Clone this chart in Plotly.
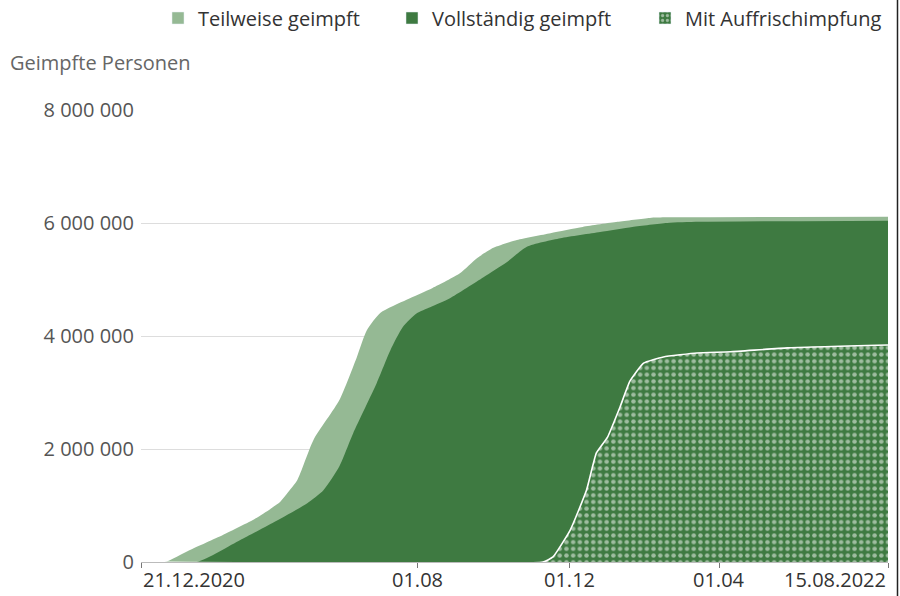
import plotly.graph_objects as go

# ---- data (values in persons) ----
teil_dates = ["2020-12-21", "2021-01-09", "2021-01-29", "2021-02-25", "2021-03-24", "2021-04-12",
              "2021-04-18", "2021-04-26", "2021-05-09", "2021-05-30", "2021-06-13", "2021-06-21",
              "2021-07-02", "2021-07-23", "2021-08-13", "2021-09-04", "2021-09-18", "2021-10-01",
              "2021-10-20", "2021-11-16", "2021-12-12", "2022-01-09", "2022-02-04", "2022-02-18",
              "2022-08-15"]
teil_values = [0, 0, 210000, 480000, 780000, 1060000,
               1220000, 1450000, 2160000, 2870000, 3630000, 4100000,
               4410000, 4640000, 4850000, 5110000, 5380000, 5560000,
               5700000, 5820000, 5930000, 6020000, 6090000, 6100000,
               6110000]

voll_dates = ["2020-12-21", "2021-02-04", "2021-03-11", "2021-04-06", "2021-05-04", "2021-05-17",
              "2021-05-30", "2021-06-10", "2021-06-29", "2021-07-10", "2021-07-20", "2021-07-31",
              "2021-08-11", "2021-08-27", "2021-09-23", "2021-10-12", "2021-10-28", "2021-11-24",
              "2021-12-26", "2022-01-21", "2022-02-18", "2022-03-16", "2022-08-15"]
voll_values = [0, 0, 390000, 690000, 1040000, 1270000,
               1700000, 2280000, 3170000, 3750000, 4160000, 4400000,
               4510000, 4670000, 5040000, 5310000, 5580000, 5730000,
               5840000, 5930000, 6000000, 6020000, 6040000]

boost_dates = ["2020-12-21", "2021-11-10", "2021-11-18", "2021-12-02", "2021-12-15", "2021-12-23",
               "2022-01-01", "2022-01-11", "2022-01-19", "2022-01-30", "2022-02-15", "2022-03-14",
               "2022-04-10", "2022-05-26", "2022-08-15"]
boost_values = [0, 0, 90000, 570000, 1270000, 1930000,
                2210000, 2740000, 3200000, 3520000, 3630000, 3700000,
                3720000, 3790000, 3840000]

series_names = ["Teilweise geimpft", "Vollständig geimpft", "Mit Auffrischimpfung"]
x_tick_vals = ["2020-12-21", "2021-08-01", "2021-12-01", "2022-04-01", "2022-08-15"]
x_tick_text = ["21.12.2020", "01.08", "01.12", "01.04", "15.08.2022"]
y_tick_vals = [0, 2000000, 4000000, 6000000, 8000000]
y_title = "Geimpfte Personen"

LIGHT = "#95b994"
DARK = "#3e7a41"
FONT = "Open Sans, sans-serif"

L, R, T, B = 141, 12, 110, 34
PW, PH = 900 - L - R, 596 - T - B


def px(xpix):
    return (xpix - L) / PW


def py(ypix):
    return (596 - B - ypix) / PH


fig = go.Figure()
fig.add_trace(go.Scatter(x=teil_dates, y=teil_values, mode="lines", fill="tozeroy",
                         line=dict(width=0, color=LIGHT, shape="spline", smoothing=0.6),
                         fillcolor=LIGHT, showlegend=False, hoverinfo="skip"))
fig.add_trace(go.Scatter(x=voll_dates, y=voll_values, mode="lines", fill="tozeroy",
                         line=dict(width=0, color=DARK, shape="spline", smoothing=0.6),
                         fillcolor=DARK, showlegend=False, hoverinfo="skip"))
fig.add_trace(go.Scatter(x=boost_dates, y=boost_values, mode="lines", fill="tozeroy",
                         line=dict(width=1.6, color="white", shape="spline", smoothing=0.4),
                         fillpattern=dict(shape=".", bgcolor=DARK, fgcolor="white",
                                          size=6.7, solidity=0.35),
                         showlegend=False, hoverinfo="skip"))

# legend entries (one legend per entry for exact placement)
legend_x = [158, 392, 645]
legend_markers = [
    dict(color=LIGHT),
    dict(color=DARK),
    dict(color=DARK, pattern=dict(shape=".", bgcolor=DARK, fgcolor="white", size=6, solidity=0.35)),
]
legend_ids = ["legend", "legend2", "legend3"]
for name, mk, lid in zip(series_names, legend_markers, legend_ids):
    fig.add_trace(go.Bar(x=[None], y=[None], name=name, marker=mk, legend=lid))

legend_common = dict(orientation="h", xanchor="left", yanchor="middle", y=py(18),
                     font=dict(family=FONT, size=20, color="#333333"), itemclick=False,
                     bgcolor="rgba(0,0,0,0)", borderwidth=0)

annotations = [
    dict(text=y_title, xref="paper", yref="paper", x=px(8), y=py(62),
         xanchor="left", yanchor="middle", showarrow=False,
         font=dict(family=FONT, size=20, color="#666666")),
]
anchors = ["left"] + ["center"] * (len(x_tick_text) - 2) + ["right"]
for val, txt, anc in zip(x_tick_vals, x_tick_text, anchors):
    annotations.append(dict(text=txt, xref="x", yref="paper", x=val, y=py(579),
                            xanchor=anc, yanchor="middle", showarrow=False,
                            font=dict(family=FONT, size=20, color="#333333")))

fig.update_layout(
    width=900, height=596,
    margin=dict(l=L, r=R, t=T, b=B, autoexpand=False),
    paper_bgcolor="white", plot_bgcolor="white",
    separators=", ",
    font=dict(family=FONT, size=20, color="#555555"),
    legend=dict(x=px(legend_x[0]), **legend_common),
    legend2=dict(x=px(legend_x[1]), **legend_common),
    legend3=dict(x=px(legend_x[2]), **legend_common),
    annotations=annotations,
    barmode="overlay",
    shapes=[dict(type="line", xref="paper", yref="paper", x0=px(897.5), x1=px(897.5),
                 y0=py(596), y1=py(0), line=dict(color="#222222", width=1.5))],
)
fig.update_xaxes(type="date", range=["2020-12-21", "2022-08-15"],
                 tickvals=x_tick_vals, ticktext=[""] * len(x_tick_vals),
                 ticks="outside", ticklen=5, tickcolor="#777777",
                 showline=True, linecolor="#bbbbbb", showgrid=False, zeroline=False,
                 automargin=False)
fig.update_yaxes(range=[0, 8000000], tickvals=y_tick_vals, tickformat=",d",
                 showgrid=True, gridcolor="#dddddd", gridwidth=1, zeroline=False,
                 showline=False, ticks="", ticklabelstandoff=6, automargin=False,
                 tickfont=dict(family=FONT, size=20, color="#555555"))

fig.write_html("out.html")
